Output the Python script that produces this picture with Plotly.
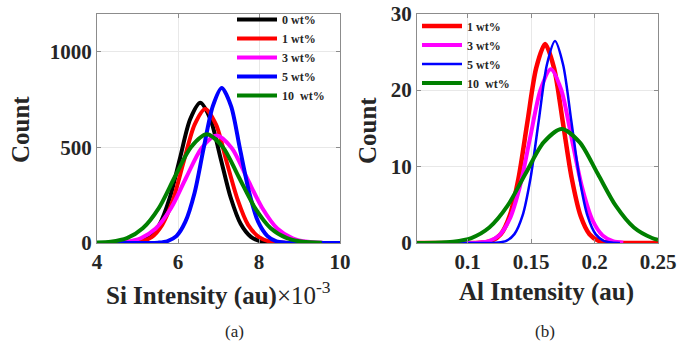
import plotly.graph_objects as go

# ---------------- Data ----------------
# Panel (a): Si intensity (x10^-3) vs count
si_labels = ["0 wt%", "1 wt%", "3 wt%", "5 wt%", "10\u00a0 wt%"]
si_colors = ["#000000", "#ff0000", "#ff00ff", "#0000ff", "#008000"]

si_x_0 = [4.55, 4.8, 5.05, 5.3, 5.55, 5.8, 6.05, 6.3, 6.55, 6.8, 7.05, 7.3, 7.55, 7.8, 8.05, 8.3, 8.55]
si_y_0 = [0, 2, 8, 32, 99, 238, 445, 647, 733, 647, 445, 238, 99, 32, 8, 2, 0]

si_x_1 = [4.55, 4.82, 5.08, 5.35, 5.61, 5.88, 6.14, 6.41, 6.67, 6.94, 7.2, 7.47, 7.73, 8.0, 8.26, 8.53, 8.79]
si_y_1 = [0, 2, 8, 31, 95, 228, 425, 619, 701, 619, 425, 228, 95, 31, 8, 2, 0]

si_x_3 = [4.0, 4.33, 4.7, 5.08, 5.45, 5.83, 6.2, 6.58, 6.95, 7.33, 7.7, 8.08, 8.45, 8.83, 9.2, 9.58]
si_y_3 = [0, 1, 6, 25, 76, 183, 341, 496, 562, 496, 341, 183, 76, 25, 6, 1]

si_x_5 = [4.0, 5.06, 5.28, 5.51, 5.73, 5.96, 6.18, 6.41, 6.63, 6.86, 7.08, 7.31, 7.53, 7.76, 7.98, 8.21, 8.43, 8.66, 8.88, 9.11, 10.0]
si_y_5 = [0, 0, 0, 2, 9, 36, 110, 263, 492, 716, 811, 716, 492, 263, 110, 36, 9, 2, 0, 0, 0]

si_x_10 = [4.0, 4.34, 4.74, 5.13, 5.53, 5.92, 6.32, 6.71, 7.11, 7.5, 7.9, 8.29, 8.69, 9.08, 9.55]
si_y_10 = [2, 6, 25, 77, 184, 345, 501, 568, 501, 345, 184, 77, 25, 6, 1]

# Panel (b): Al intensity vs count
al_labels = ["1 wt%", "3 wt%", "5 wt%", "10\u00a0 wt%"]
al_colors = ["#ff0000", "#ff00ff", "#0000ff", "#008000"]

al_x_1 = [0.06, 0.105, 0.112, 0.119, 0.126, 0.133, 0.14, 0.147, 0.154, 0.161, 0.168, 0.175, 0.182, 0.189, 0.196, 0.203, 0.21, 0.217, 0.25]
al_y_1 = [0, 0.01, 0.06, 0.29, 1.14, 3.52, 8.44, 15.77, 22.9, 26.0, 22.9, 15.77, 8.44, 3.52, 1.14, 0.29, 0.06, 0.01, 0]

al_x_3 = [0.06, 0.1003, 0.1085, 0.1166, 0.1248, 0.1329, 0.1411, 0.1492, 0.1574, 0.1655, 0.1737, 0.1818, 0.19, 0.1981, 0.2063, 0.2144, 0.2226]
al_y_3 = [0, 0.01, 0.05, 0.25, 1.0, 3.07, 7.37, 13.77, 20.03, 22.7, 20.03, 13.77, 7.37, 3.07, 1.0, 0.25, 0.05]

al_x_5 = [0.06, 0.1176, 0.124, 0.1304, 0.1368, 0.1432, 0.1496, 0.156, 0.1624, 0.1688, 0.1752, 0.1816, 0.188, 0.1944, 0.2008, 0.2072, 0.2136, 0.22]
al_y_5 = [0, 0.01, 0.06, 0.29, 1.16, 3.57, 8.57, 16.01, 23.3, 26.4, 23.3, 16.01, 8.57, 3.57, 1.16, 0.29, 0.06, 0.01]

al_x_10 = [0.06, 0.0743, 0.0885, 0.1028, 0.117, 0.1313, 0.1455, 0.1598, 0.174, 0.1883, 0.2025, 0.2168, 0.231, 0.2453, 0.25]
al_y_10 = [0.01, 0.03, 0.17, 0.65, 2.02, 4.84, 9.04, 13.15, 14.9, 13.15, 9.04, 4.84, 2.02, 0.65, 0.43]

si_ticks = [4, 6, 8, 10]
count_ticks_a = [0, 500, 1000]
al_ticks = [0.1, 0.15, 0.2, 0.25]
al_tick_text = ["0.1", "0.15", "0.2", "0.25"]
count_ticks_b = [0, 10, 20, 30]

# ---------------- Figure ----------------
W, H = 691, 341
SERIF = "Liberation Serif"
TXT = "#262626"

fig = go.Figure()

si_series = [(si_x_0, si_y_0), (si_x_1, si_y_1), (si_x_3, si_y_3), (si_x_5, si_y_5), (si_x_10, si_y_10)]
for (xs, ys), lab, col in zip(si_series, si_labels, si_colors):
    fig.add_trace(go.Scatter(x=xs, y=ys, mode="lines", name=lab,
                             line=dict(color=col, width=4, shape="spline", smoothing=0.8),
                             xaxis="x", yaxis="y", legend="legend"))

al_series = [(al_x_1, al_y_1), (al_x_3, al_y_3), (al_x_5, al_y_5), (al_x_10, al_y_10)]
al_widths = [4.5, 4, 2.5, 4]
for (xs, ys), lab, col, w in zip(al_series, al_labels, al_colors, al_widths):
    fig.add_trace(go.Scatter(x=xs, y=ys, mode="lines", name=lab,
                             line=dict(color=col, width=w, shape="spline", smoothing=0.8),
                             xaxis="x2", yaxis="y2", legend="legend2"))

def px(v):
    return v / W

def py(v):
    return 1 - v / H

axis_common = dict(showline=True, mirror="ticks", linecolor="#8c8c8c", linewidth=1,
                   showgrid=True, gridcolor="#e8e8e8", gridwidth=1,
                   ticks="inside", ticklen=4, tickcolor="#8c8c8c",
                   zeroline=False, automargin=False,
                   tickfont=dict(family=SERIF, size=21, color=TXT, weight="bold"))

legend_font = dict(family=SERIF, size=12, color=TXT, weight="bold")
ydom = [py(243), py(13.5)]
fig.update_layout(
    width=W, height=H,
    margin=dict(l=0, r=0, t=0, b=0, pad=0, autoexpand=False),
    paper_bgcolor="white", plot_bgcolor="white",
    xaxis=dict(domain=[px(97), px(340)], range=[4, 10], tickvals=si_ticks,
               anchor="y", **axis_common),
    yaxis=dict(domain=ydom, range=[0, 1200], tickvals=count_ticks_a,
               anchor="x", **axis_common),
    xaxis2=dict(domain=[px(417), px(658)], range=[0.06, 0.25], tickvals=al_ticks,
                ticktext=al_tick_text, anchor="y2", **axis_common),
    yaxis2=dict(domain=ydom, range=[0, 30], tickvals=count_ticks_b,
                anchor="x2", **axis_common),
    legend=dict(x=px(232), y=py(5), xanchor="left", yanchor="top",
                bgcolor="rgba(0,0,0,0)", borderwidth=0, tracegroupgap=0,
                itemwidth=40, font=legend_font),
    legend2=dict(x=px(417), y=py(11.5), xanchor="left", yanchor="top",
                 bgcolor="rgba(0,0,0,0)", borderwidth=0, tracegroupgap=0,
                 itemwidth=40, font=legend_font),
    showlegend=True,
)

ann = []
ann.append(dict(text="<b>Count</b>", x=px(20), y=py(130), textangle=-90,
                xanchor="center", yanchor="middle",
                font=dict(family=SERIF, size=25, color=TXT)))
ann.append(dict(text="<b>Count</b>", x=px(367), y=py(130), textangle=-90,
                xanchor="center", yanchor="middle",
                font=dict(family=SERIF, size=25, color=TXT)))
ann.append(dict(text="<b>Si Intensity (au)</b>\u00d710<sup>-3</sup>", x=px(104), y=py(293),
                xanchor="left", yanchor="middle",
                font=dict(family=SERIF, size=25, color=TXT)))
ann.append(dict(text="<b>Al Intensity (au)</b>", x=px(546), y=py(292),
                xanchor="center", yanchor="middle",
                font=dict(family=SERIF, size=25, color=TXT)))
ann.append(dict(text="(a)", x=px(234), y=py(331), xanchor="center", yanchor="middle",
                font=dict(family=SERIF, size=17, color=TXT)))
ann.append(dict(text="(b)", x=px(545), y=py(331), xanchor="center", yanchor="middle",
                font=dict(family=SERIF, size=17, color=TXT)))
for a in ann:
    a.update(xref="paper", yref="paper", showarrow=False)
fig.update_layout(annotations=ann)

fig.write_html("out.html",
               config={"displayModeBar": False},
               post_script="document.body.style.margin='0';document.body.style.overflow='hidden';")
